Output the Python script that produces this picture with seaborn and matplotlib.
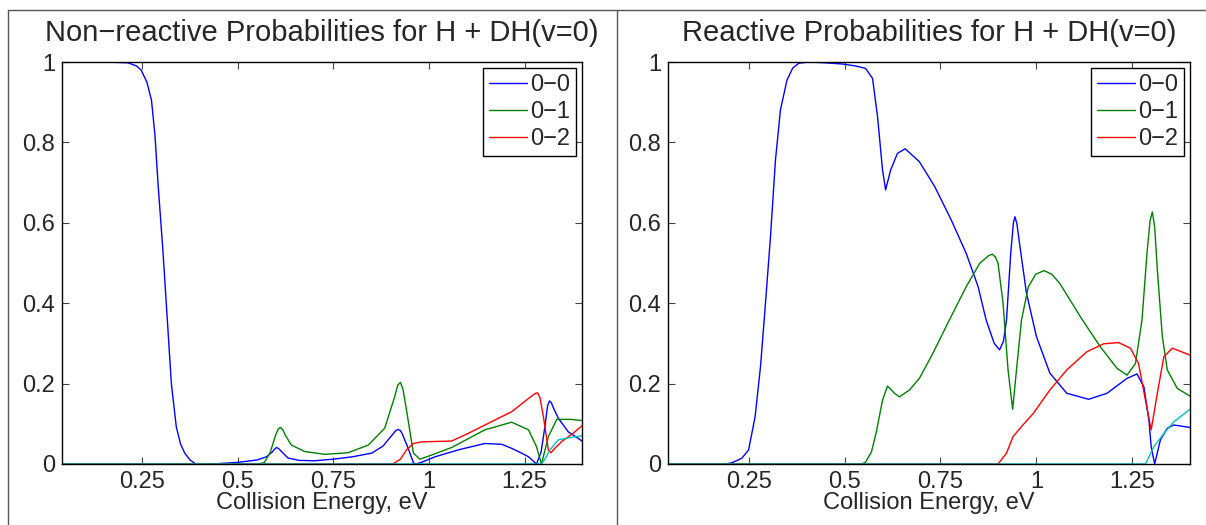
import matplotlib
matplotlib.use("Agg")
import matplotlib.pyplot as plt
import seaborn as sns
from matplotlib.lines import Line2D
from matplotlib.ticker import FormatStrFormatter

# ---- Non-reactive panel ----
nr_x_00 = [0.04, 0.15, 0.213, 0.235, 0.247, 0.262, 0.274, 0.283, 0.291, 0.304, 0.315, 0.326,
           0.339, 0.35, 0.361, 0.375, 0.39, 0.45, 0.50, 0.55, 0.575, 0.59, 0.596, 0.601, 0.607,
           0.615, 0.631, 0.66, 0.70, 0.75, 0.80, 0.85, 0.88, 0.905, 0.913, 0.919, 0.925, 0.93,
           0.945, 0.959, 0.965, 0.98, 1.016, 1.08, 1.146, 1.19, 1.216, 1.24, 1.26, 1.281, 1.293,
           1.303, 1.31, 1.315, 1.32, 1.325, 1.338, 1.364, 1.385, 1.40]
nr_y_00 = [1.0, 1.0, 0.998, 0.99, 0.98, 0.95, 0.905, 0.82, 0.70, 0.53, 0.366, 0.20,
           0.092, 0.05, 0.027, 0.01, 0.0, 0.001, 0.004, 0.01, 0.018, 0.03, 0.037, 0.041, 0.038,
           0.03, 0.015, 0.009, 0.008, 0.012, 0.018, 0.027, 0.045, 0.074, 0.083, 0.086, 0.083, 0.075,
           0.04, 0.003, 0.0, 0.004, 0.018, 0.036, 0.051, 0.049, 0.039, 0.028, 0.018, 0.0, 0.03,
           0.093, 0.145, 0.157, 0.152, 0.14, 0.114, 0.080, 0.067, 0.057]

nr_x_01 = [0.04, 0.55, 0.569, 0.585, 0.598, 0.605, 0.611, 0.617, 0.625, 0.64, 0.675, 0.727,
           0.788, 0.841, 0.884, 0.91, 0.918, 0.925, 0.932, 0.941, 0.959, 0.976, 1.0, 1.059, 1.146,
           1.216, 1.26, 1.281, 1.294, 1.312, 1.334, 1.37, 1.40]
nr_y_01 = [0.0, 0.0, 0.003, 0.03, 0.07, 0.086, 0.091, 0.086, 0.07, 0.047, 0.031, 0.024,
           0.028, 0.047, 0.089, 0.167, 0.196, 0.203, 0.185, 0.134, 0.027, 0.012, 0.02, 0.041, 0.085,
           0.104, 0.085, 0.043, 0.0, 0.068, 0.111, 0.111, 0.108]

nr_x_02 = [0.04, 0.905, 0.925, 0.941, 0.959, 0.98, 1.015, 1.059, 1.1, 1.146, 1.216, 1.26,
           1.277, 1.284, 1.29, 1.299, 1.312, 1.319, 1.33, 1.347, 1.375, 1.40]
nr_y_02 = [0.0, 0.0, 0.012, 0.035, 0.051, 0.055, 0.056, 0.057, 0.075, 0.097, 0.130, 0.163,
           0.175, 0.177, 0.165, 0.118, 0.035, 0.028, 0.04, 0.056, 0.075, 0.095]

nr_x_03 = [0.04, 1.294, 1.305, 1.316, 1.338, 1.364, 1.40]
nr_y_03 = [0.0, 0.0, 0.015, 0.035, 0.060, 0.065, 0.070]

# ---- Reactive panel ----
r_x_00 = [0.04, 0.19, 0.206, 0.232, 0.25, 0.267, 0.281, 0.294, 0.307, 0.32, 0.333, 0.35,
          0.365, 0.381, 0.407, 0.45, 0.494, 0.53, 0.555, 0.573, 0.586, 0.599, 0.607, 0.62,
          0.638, 0.658, 0.695, 0.735, 0.778, 0.817, 0.848, 0.869, 0.89, 0.904, 0.914, 0.922,
          0.933, 0.94, 0.944, 0.949, 0.957, 0.974, 1.0, 1.035, 1.079, 1.136, 1.184, 1.236, 1.262,
          1.28, 1.293, 1.299, 1.308, 1.323, 1.341, 1.358, 1.40]
r_y_00 = [0.0, 0.0, 0.003, 0.014, 0.035, 0.118, 0.242, 0.40, 0.565, 0.756, 0.881, 0.955,
          0.985, 0.997, 1.0, 0.998, 0.995, 0.99, 0.984, 0.959, 0.864, 0.731, 0.682, 0.731,
          0.773, 0.784, 0.752, 0.69, 0.607, 0.524, 0.441, 0.358, 0.30, 0.284, 0.305, 0.358,
          0.524, 0.60, 0.615, 0.598, 0.541, 0.425, 0.317, 0.226, 0.176, 0.161, 0.176, 0.213, 0.224,
          0.192, 0.109, 0.043, 0.0, 0.060, 0.089, 0.097, 0.091]

r_x_01 = [0.04, 0.545, 0.555, 0.57, 0.582, 0.599, 0.612, 0.63, 0.643, 0.669, 0.695, 0.73,
          0.773, 0.817, 0.852, 0.875, 0.885, 0.893, 0.900, 0.913, 0.926, 0.938, 0.948, 0.961,
          0.979, 0.998, 1.02, 1.04, 1.061, 1.114, 1.166, 1.21, 1.236, 1.258, 1.275, 1.288,
          1.296, 1.302, 1.308, 1.315, 1.328, 1.341, 1.367, 1.40]
r_y_01 = [0.0, 0.0, 0.005, 0.03, 0.076, 0.159, 0.194, 0.176, 0.167, 0.184, 0.213, 0.275,
          0.358, 0.441, 0.499, 0.518, 0.522, 0.515, 0.499, 0.400, 0.234, 0.136, 0.234, 0.358,
          0.441, 0.472, 0.481, 0.472, 0.449, 0.367, 0.292, 0.238, 0.221, 0.250, 0.358, 0.524,
          0.605, 0.627, 0.59, 0.483, 0.317, 0.234, 0.188, 0.169]

r_x_02 = [0.04, 0.90, 0.922, 0.939, 0.961, 0.992, 1.035, 1.079, 1.131, 1.175, 1.214, 1.245,
          1.266, 1.284, 1.299, 1.315, 1.332, 1.354, 1.40]
r_y_02 = [0.0, 0.0, 0.027, 0.068, 0.093, 0.126, 0.184, 0.234, 0.279, 0.299, 0.302, 0.288,
          0.250, 0.159, 0.085, 0.176, 0.267, 0.288, 0.271]

r_x_03 = [0.04, 1.284, 1.306, 1.332, 1.358, 1.40]
r_y_03 = [0.0, 0.0, 0.043, 0.076, 0.105, 0.136]

titles = ["Non\u2212reactive Probabilities for H + DH(v=0)",
          "Reactive Probabilities for H + DH(v=0)"]
labels = ["0\u22120", "0\u22121", "0\u22122"]
colors = ["#0000ff", "#008000", "#ff0000", "#00bfbf"]

sns.set_style("ticks")
plt.rcParams["font.family"] = ["Liberation Sans", "DejaVu Sans"]

fig = plt.figure(figsize=(12.06, 5.25), dpi=100)
ax1 = fig.add_axes([0.0514, 0.1162, 0.4312, 0.7657])
ax2 = fig.add_axes([0.5539, 0.1162, 0.4328, 0.7657])

panels = [
    (ax1, [(nr_x_00, nr_y_00), (nr_x_01, nr_y_01), (nr_x_02, nr_y_02), (nr_x_03, nr_y_03)]),
    (ax2, [(r_x_00, r_y_00), (r_x_01, r_y_01), (r_x_02, r_y_02), (r_x_03, r_y_03)]),
]

for i, (ax, series) in enumerate(panels):
    for j, (xs, ys) in enumerate(series):
        lab = labels[j] if j < 3 else None
        sns.lineplot(x=xs, y=ys, color=colors[j], lw=1.0, ax=ax, label=lab,
                     sort=False, estimator=None)
    ax.set_xlim(0.04, 1.40)
    ax.set_ylim(0, 1)
    ax.set_xticks([0.25, 0.5, 0.75, 1.0, 1.25])
    ax.set_yticks([0, 0.2, 0.4, 0.6, 0.8, 1.0])
    ax.xaxis.set_major_formatter(FormatStrFormatter("%g"))
    ax.yaxis.set_major_formatter(FormatStrFormatter("%g"))
    ax.tick_params(direction="in", top=True, right=True, length=5, width=0.8,
                   color="#444444", labelsize=17, pad=5)
    for s in ax.spines.values():
        s.set_color("black")
        s.set_linewidth(1.0)
    ax.set_title(titles[i], fontsize=21, pad=15)
    ax.set_xlabel("Collision Energy, eV", fontsize=17, labelpad=-1)
    ax.set_ylabel("")
    leg = ax.legend(loc="upper right", bbox_to_anchor=(1.0, 1.0), fontsize=17,
                    frameon=True, fancybox=False, framealpha=1, edgecolor="black",
                    handlelength=1.6, handletextpad=0.15, labelspacing=0.22,
                    borderpad=0.25, borderaxespad=0.25)
    leg.get_frame().set_linewidth(1.0)

# window frame lines
frame_kw = dict(color="#555555", lw=1.0, transform=fig.transFigure)
fig.add_artist(Line2D([8 / 1206, 1], [1 - 10 / 525, 1 - 10 / 525], **frame_kw))
fig.add_artist(Line2D([8 / 1206, 8 / 1206], [0, 1 - 10 / 525], **frame_kw))
fig.add_artist(Line2D([617 / 1206, 617 / 1206], [0, 1 - 10 / 525], **frame_kw))

fig.savefig("out.png", dpi=100)
